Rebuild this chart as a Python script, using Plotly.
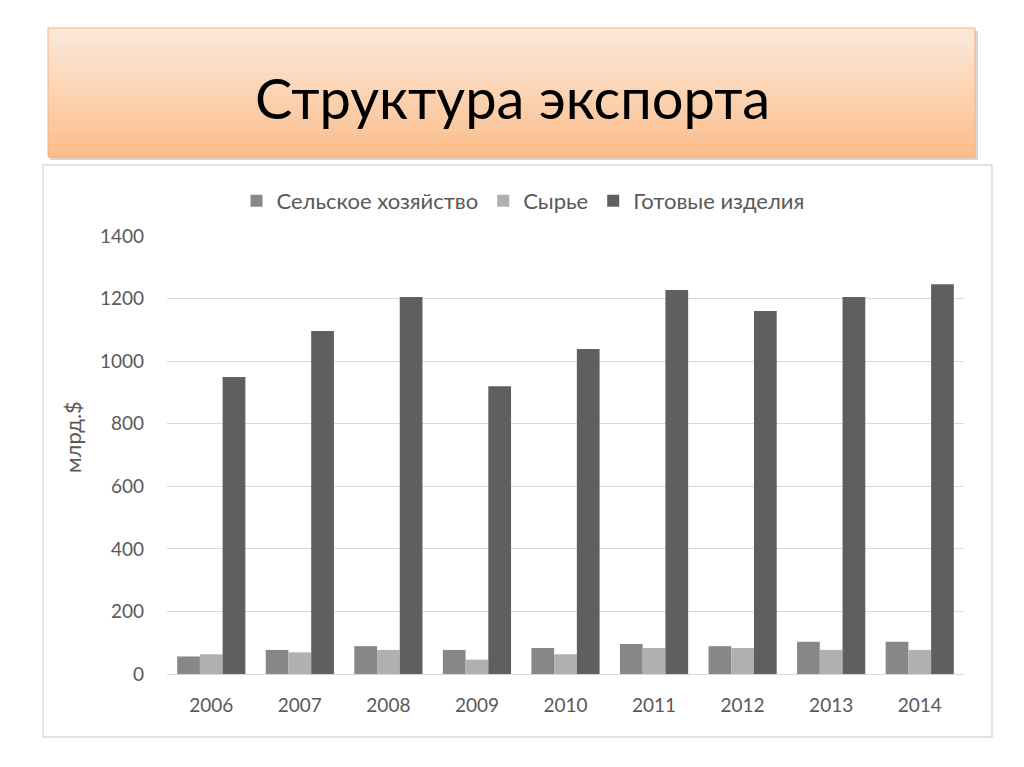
import plotly.graph_objects as go

years = ["2006", "2007", "2008", "2009", "2010", "2011", "2012", "2013", "2014"]
agriculture = [56, 77, 89, 77, 83, 96, 89, 103, 103]
raw_materials = [63, 69, 77, 46, 63, 83, 83, 77, 77]
finished_goods = [949, 1096, 1205, 920, 1039, 1227, 1160, 1205, 1246]

series_names = ["Сельское хозяйство", "Сырье", "Готовые изделия"]
series_colors = ["#878787", "#b0b0b0", "#5f5f5f"]

# page has an 8px body margin, so the figure is drawn 8px in
OFF = 8
W, H = 1024 - 2 * OFF, 767 - 2 * OFF
# plot area, in page pixels
L, R, T, B = 167, 964, 236, 674


def px(x):
    return (x - L) / (R - L)


def py(y):
    return (B - y) / (B - T)


fig = go.Figure()
for name, vals, col in zip(series_names, [agriculture, raw_materials, finished_goods], series_colors):
    fig.add_trace(go.Bar(x=years, y=vals, name=name, marker_color=col, marker_line_width=0))

shapes = []
# chart frame
shapes.append(dict(type="rect", xref="paper", yref="paper", x0=px(43), x1=px(992),
                   y0=py(737), y1=py(165), line=dict(color="#d9d9d9", width=1.5),
                   fillcolor="rgba(0,0,0,0)", layer="below"))
# title box shadow
shapes.append(dict(type="rect", xref="paper", yref="paper", x0=px(50), x1=px(978),
                   y0=py(160), y1=py(31), line_width=0, fillcolor="#dcd4cc", layer="below"))
# title box gradient, built from thin strips
top_c = (253, 234, 218)
bot_c = (251, 190, 140)
n = 40
y_top, y_bot = 28, 157
for i in range(n):
    t = i / (n - 1)
    c = tuple(int(a + (b - a) * t) for a, b in zip(top_c, bot_c))
    ya = y_top + (y_bot - y_top) * i / n
    yb = y_top + (y_bot - y_top) * (i + 1) / n
    shapes.append(dict(type="rect", xref="paper", yref="paper", x0=px(48), x1=px(975),
                       y0=py(yb + 0.5), y1=py(ya), line_width=0,
                       fillcolor="rgb(%d,%d,%d)" % c, layer="below"))
shapes.append(dict(type="rect", xref="paper", yref="paper", x0=px(48), x1=px(975),
                   y0=py(y_bot), y1=py(y_top), line=dict(color="#f4b183", width=1),
                   fillcolor="rgba(0,0,0,0)", layer="below"))

fig.update_layout(
    width=W, height=H,
    margin=dict(l=L - OFF, r=W + OFF - R, t=T - OFF, b=H + OFF - B),
    paper_bgcolor="white", plot_bgcolor="white",
    barmode="group", bargap=0.23, bargroupgap=0,
    font=dict(family="Lato, Open Sans, sans-serif", color="#595959", size=19),
    shapes=shapes,
    showlegend=True,
    legend=dict(orientation="h", x=px(523), xanchor="center", y=py(201), yanchor="middle",
                font=dict(size=22, color="#595959"), itemwidth=30,
                bgcolor="rgba(0,0,0,0)"),
    annotations=[
        dict(text="Структура экспорта", xref="paper", yref="paper", x=px(512), y=py(97),
             xanchor="center", yanchor="middle", showarrow=False,
             font=dict(size=56, color="#000000", family="Lato, Open Sans, sans-serif")),
        dict(text="млрд.$", xref="paper", yref="paper", x=px(72), y=py(437), textangle=-90,
             xanchor="center", yanchor="middle", showarrow=False,
             font=dict(size=22, color="#595959")),
    ],
    xaxis=dict(showline=True, linecolor="#d9d9d9", linewidth=1, ticks="", showgrid=False,
               tickfont=dict(size=19), ticklabelstandoff=14),
    yaxis=dict(range=[0, 1400], dtick=200, showgrid=True, gridcolor="#d9d9d9", gridwidth=1,
               zeroline=False, showline=False, ticks="", tickfont=dict(size=19),
               ticklabelstandoff=22),
)

fig.write_html("out.html")
